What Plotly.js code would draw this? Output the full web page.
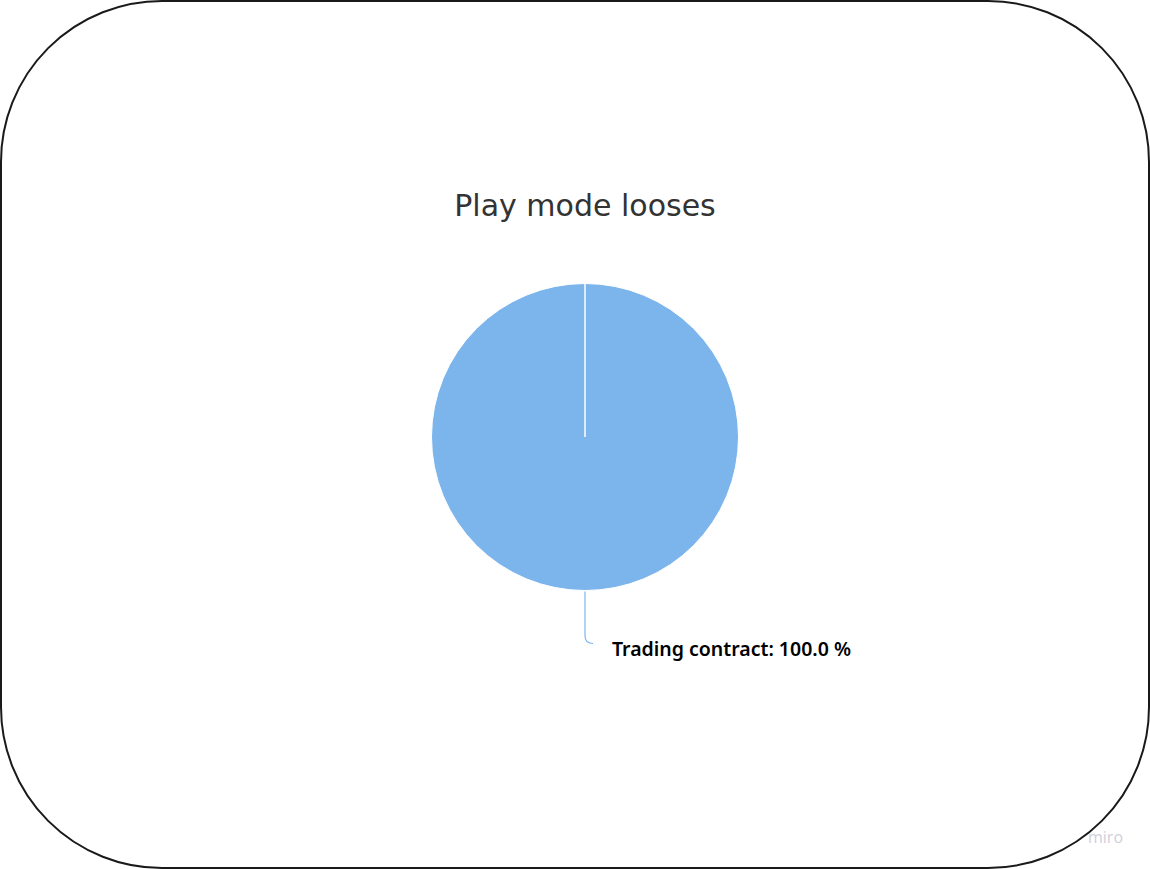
<!DOCTYPE html>
<html>
<head>
<meta charset="utf-8">
<script src="https://cdn.plot.ly/plotly-3.0.1.min.js"></script>
<style>
  html, body { margin: 0; padding: 0; background: #fff; }
  #wrap { position: relative; width: 1150px; height: 869px; }
  #chart { position: absolute; left: 0; top: 0; width: 1150px; height: 869px; }
  #frame { position: absolute; left: 0; top: 0; width: 1150px; height: 869px; box-sizing: border-box;
           border: 2px solid #1a1a1a; border-radius: 162px; pointer-events: none; }
</style>
</head>
<body>
<div id="wrap">
  <div id="chart"></div>
  <div id="frame"></div>
</div>
<script>
const chartTitle = "Play mode looses";
const labels = ["Trading contract"];
const values = [1];
const colors = ["#7cb5ec"];

const W = 1150, H = 869;
const cx = 585, cy = 437, r = 153.5;   // pie placement in pixels
const px = x => x / W;
const py = y => 1 - y / H;

const total = values.reduce((a, b) => a + b, 0);
const labelText = labels[0] + ": " + (values[0] / total * 100).toFixed(1) + " %";

const trace = {
  type: "pie",
  labels: labels,
  values: values,
  marker: { colors: colors, line: { color: "#ffffff", width: 1 } },
  textinfo: "none",
  hoverinfo: "label+percent",
  sort: false,
  direction: "clockwise",
  rotation: 0,
  showlegend: false,
  domain: { x: [px(cx - r), px(cx + r)], y: [py(cy + r), py(cy - r)] }
};

// connector path (paper coords)
const c0y = cy + r + 1;
const connector = "M " + px(cx) + "," + py(c0y) +
  " L " + px(cx) + "," + py(cy + r + 45) +
  " C " + px(cx) + "," + py(cy + r + 51) + " " + px(cx + 3) + "," + py(cy + r + 53) + " " + px(cx + 8) + "," + py(cy + r + 53);

const layout = {
  width: W, height: H,
  margin: { l: 0, r: 0, t: 0, b: 0 },
  paper_bgcolor: "rgba(0,0,0,0)",
  plot_bgcolor: "rgba(0,0,0,0)",
  title: {
    text: chartTitle,
    x: px(cx), xanchor: "center",
    y: py(205), yanchor: "middle",
    font: { family: "DejaVu Sans, Verdana, sans-serif", size: 30, color: "#333333" }
  },
  shapes: [
    { type: "line", xref: "paper", yref: "paper",
      x0: px(cx), x1: px(cx), y0: py(cy), y1: py(cy - r),
      line: { color: "#ffffff", width: 1.5 } },
    { type: "path", xref: "paper", yref: "paper", path: connector,
      line: { color: "#7cb5ec", width: 1.2 } }
  ],
  annotations: [
    { text: labelText, xref: "paper", yref: "paper",
      x: px(610), y: py(648), xanchor: "left", yanchor: "middle", showarrow: false,
      font: { family: "Noto Sans, sans-serif", size: 19.5, color: "#000000", weight: 600 } },
    { text: "miro", xref: "paper", yref: "paper",
      x: px(1105), y: py(837), xanchor: "center", yanchor: "middle", showarrow: false,
      font: { family: "Open Sans, sans-serif", size: 16, color: "#cfcfdc" } }
  ]
};

Plotly.newPlot("chart", [trace], layout, { displayModeBar: false });
</script>
</body>
</html>
